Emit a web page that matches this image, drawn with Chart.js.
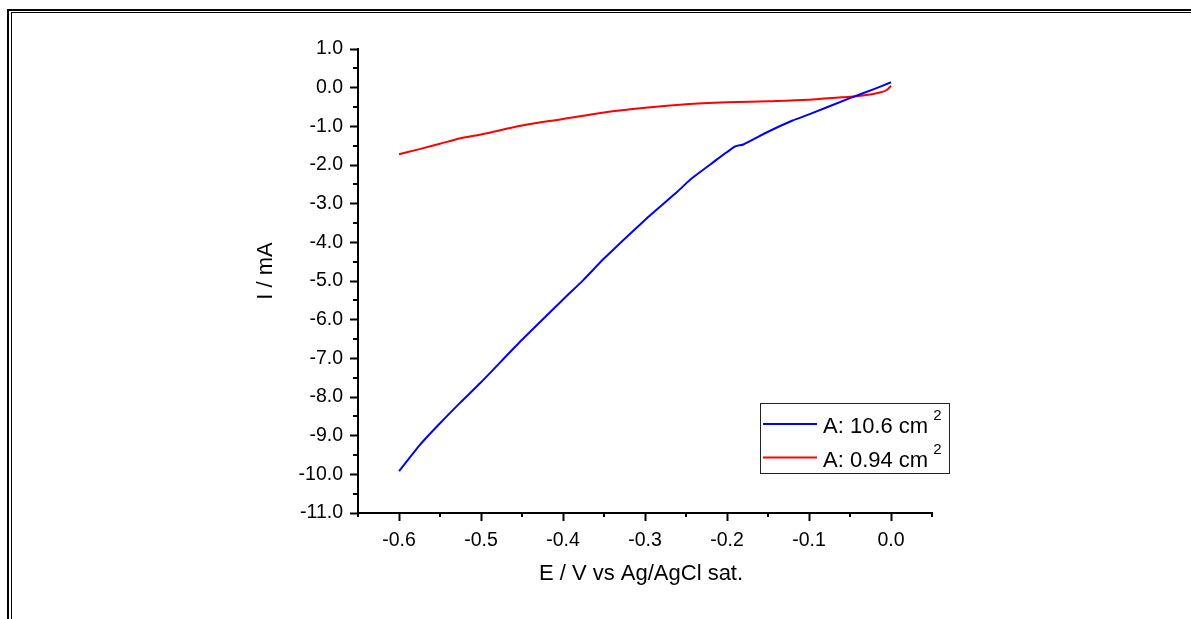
<!DOCTYPE html>
<html>
<head>
<meta charset="utf-8">
<script src="https://cdn.jsdelivr.net/npm/chart.js@4/dist/chart.umd.min.js"></script>
<style>
    html, body { margin: 0; padding: 0; background: #fff; overflow: hidden; }
    #wrap { position: relative; width: 1191px; height: 619px; }
    /* double frame on the left / top edge */
    .frameOuter { position: absolute; left: 7px; top: 9px; right: -10px; bottom: -10px; border-left: 2px solid #000; border-top: 2px solid #000; }
    .frameInner { position: absolute; left: 11px; top: 12px; right: -10px; bottom: -10px; border-left: 1px solid #000; border-top: 1px solid #000; }
    canvas { position: absolute; left: 0; top: 0; }
</style>
</head>
<body>
<div id="wrap">
    <div class="frameOuter"></div>
    <div class="frameInner"></div>
    <canvas id="myChart" width="1191" height="619"></canvas>
</div>
<script>
/* polarisation curves, two electrode areas */
const seriesLabels = ['A: 10.6 cm²', 'A: 0.94 cm²'];
const seriesColors = ['rgb(0, 0, 255)', 'rgb(255, 0, 0)'];

const blueE = [-0.6, -0.575, -0.55, -0.525, -0.5, -0.45, -0.4, -0.375, -0.35, -0.3, -0.26, -0.245, -0.22, -0.19, -0.18, -0.15, -0.12, -0.1, -0.05, -0.02, 0];
const blueI = [-9.92, -9.25, -8.68, -8.14, -7.62, -6.52, -5.48, -4.97, -4.42, -3.42, -2.68, -2.38, -1.98, -1.52, -1.47, -1.14, -0.85, -0.69, -0.27, -0.03, 0.14];

const redE = [-0.6, -0.575, -0.55, -0.525, -0.5, -0.45, -0.4, -0.35, -0.3, -0.25, -0.2, -0.15, -0.1, -0.06, -0.03, -0.015, -0.005, 0];
const redI = [-1.72, -1.59, -1.45, -1.31, -1.21, -0.98, -0.81, -0.64, -0.52, -0.43, -0.38, -0.35, -0.31, -0.25, -0.19, -0.13, -0.06, 0.05];

const xTicks = [-0.6, -0.5, -0.4, -0.3, -0.2, -0.1, 0.0];
const xMinor = [-0.65, -0.55, -0.45, -0.35, -0.25, -0.15, -0.05, 0.05];
const yTicks = [1, 0, -1, -2, -3, -4, -5, -6, -7, -8, -9, -10, -11];
const yMinor = [0.5, -0.5, -1.5, -2.5, -3.5, -4.5, -5.5, -6.5, -7.5, -8.5, -9.5, -10.5];

const xTitle = 'E / V vs Ag/AgCl sat.';
const yTitle = 'I / mA';

const FONT = '"Liberation Sans", Arial, sans-serif';

function toPoints(xs, ys) {
    return xs.map(function (x, i) { return {x: x, y: ys[i]}; });
}

// short ticks, axis titles and the boxed legend
const extras = {
    id: 'extras',
    afterDraw: function (chart) {
        const ctx = chart.ctx;
        const xs = chart.scales.x, ys = chart.scales.y;
        const area = chart.chartArea;
        ctx.save();
        ctx.strokeStyle = '#000';
        ctx.lineWidth = 2;
        ctx.beginPath();
        xMinor.forEach(function (v) {
            const px = Math.round(xs.getPixelForValue(v));
            ctx.moveTo(px, area.bottom);
            ctx.lineTo(px, area.bottom + 4);
        });
        yMinor.forEach(function (v) {
            const py = Math.round(ys.getPixelForValue(v));
            ctx.moveTo(area.left, py);
            ctx.lineTo(area.left - 5, py);
        });
        ctx.stroke();

        ctx.fillStyle = '#000';
        ctx.font = '22px ' + FONT;
        ctx.textAlign = 'center';
        ctx.textBaseline = 'alphabetic';
        ctx.fillText(xTitle, 641, 580);
        ctx.save();
        ctx.translate(272, 271);
        ctx.rotate(-Math.PI / 2);
        ctx.fillText(yTitle, 0, 0);
        ctx.restore();

        // legend
        ctx.lineWidth = 1;
        ctx.strokeStyle = '#222';
        ctx.strokeRect(760.5, 403.5, 189, 70);
        ctx.textAlign = 'left';
        chart.data.datasets.forEach(function (ds, i) {
            const y = 424 + i * 33.5;
            ctx.strokeStyle = ds.borderColor;
            ctx.lineWidth = 2;
            ctx.beginPath();
            ctx.moveTo(763, y);
            ctx.lineTo(817, y);
            ctx.stroke();
            const parts = ds.label.split('²');
            ctx.fillStyle = '#000';
            ctx.font = '22px ' + FONT;
            ctx.fillText(parts[0], 823, y + 9);
            const w = ctx.measureText(parts[0]).width;
            ctx.font = '15px ' + FONT;
            ctx.fillText('2', 823 + w + 5, y - 4);
        });
        ctx.restore();
    }
};

const ctx = document.querySelector('#myChart').getContext('2d');
new Chart(ctx, {
    type: 'line',
    data: {
        datasets: [{
            label: seriesLabels[0],
            data: toPoints(blueE, blueI),
            borderColor: seriesColors[0],
            borderWidth: 2,
            pointRadius: 0,
            fill: false,
            tension: 0.2
        }, {
            label: seriesLabels[1],
            data: toPoints(redE, redI),
            borderColor: seriesColors[1],
            borderWidth: 2,
            pointRadius: 0,
            fill: false,
            cubicInterpolationMode: 'monotone'
        }]
    },
    options: {
        responsive: false,
        animation: false,
        layout: { padding: { top: 49, right: 259, left: 0, bottom: 0 } },
        plugins: { legend: { display: false }, tooltip: { enabled: false } },
        scales: {
            x: {
                type: 'linear',
                min: -0.65,
                max: 0.05,
                afterBuildTicks: function (scale) {
                    scale.ticks = xTicks.map(function (v) { return {value: v}; });
                },
                afterFit: function (scale) { scale.height = 106; },
                border: { display: true, color: '#000', width: 2 },
                grid: { drawOnChartArea: false, drawTicks: true, tickLength: 8, tickWidth: 2, tickColor: '#000' },
                ticks: {
                    color: '#000',
                    font: { family: FONT, size: 19.5 },
                    padding: 8,
                    maxRotation: 0,
                    callback: function (v) { return Number(v).toFixed(1); }
                }
            },
            y: {
                type: 'linear',
                min: -11,
                max: 1,
                afterBuildTicks: function (scale) {
                    scale.ticks = yTicks.map(function (v) { return {value: v}; });
                },
                afterFit: function (scale) { scale.width = 358; },
                border: { display: true, color: '#000', width: 2 },
                grid: { drawOnChartArea: false, drawTicks: true, tickLength: 8, tickWidth: 2, tickColor: '#000' },
                ticks: {
                    color: '#000',
                    font: { family: FONT, size: 19.5 },
                    padding: 7,
                    callback: function (v) { return Number(v).toFixed(1); }
                }
            }
        }
    },
    plugins: [extras]
});
</script>
</body>
</html>
